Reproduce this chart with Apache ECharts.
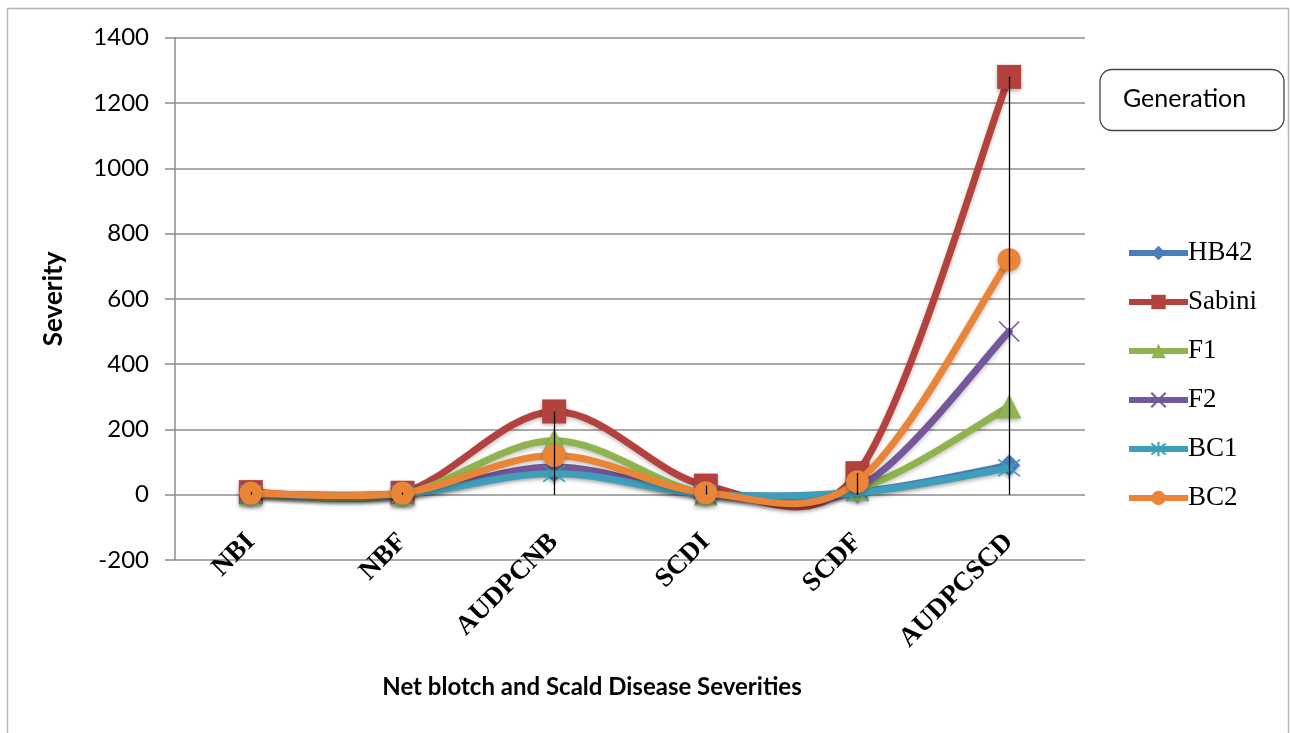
<!DOCTYPE html>
<html>
<head>
<meta charset="utf-8">
<script src="https://cdn.jsdelivr.net/npm/echarts@6/dist/echarts.min.js"></script>
<style>
html,body{margin:0;padding:0;background:#fff;}
#chart{width:1290px;height:733px;}
</style>
</head>
<body>
<div id="chart"></div>
<script>
const categories = ['NBI', 'NBF', 'AUDPCNB', 'SCDI', 'SCDF', 'AUDPCSCD'];
const HB42   = [3, 3, 72, 3, 8, 90];
const Sabini = [8, 6, 255, 28, 66, 1280];
const F1     = [2, 2, 165, 3, 18, 270];
const F2     = [2, 2, 85, 2, 20, 500];
const BC1    = [2, 2, 65, 2, 6, 82];
const BC2    = [5, 5, 120, 6, 40, 720];
const yTicks = { min: -200, max: 1400, interval: 200 };
const seriesNames = ['HB42', 'Sabini', 'F1', 'F2', 'BC1', 'BC2'];
const seriesData = [HB42, Sabini, F1, F2, BC1, BC2];
const colors = ['#4a7ebb', '#b3423f', '#8fb34f', '#74589a', '#3f9fbb', '#ea8538'];
const symbols = [
  'diamond', 'rect', 'triangle',
  'path://M0,0L10,10M10,0L0,10',
  'path://M0,0L10,10M10,0L0,10M5,-1.5L5,11.5',
  'circle'
];
const symbolSizes = [22, 24, 24, 20, 22, 23];

const dropData = categories.map((c, i) => {
  const mx = Math.max(...seriesData.map(s => s[i]));
  return [{ coord: [i, mx] }, { coord: [i, 0] }];
});

// Excel-like smoothed line: Bezier with 1/6 tangents, limited to half the segment length
function makeRenderer(arr, color) {
  const n = arr.length;
  const dist = (a, b) => Math.hypot(a[0] - b[0], a[1] - b[1]);
  return function (params, api) {
    const i = params.dataIndex;
    if (i >= n - 1) return null;
    const P = j => { const jj = Math.max(0, Math.min(n - 1, j)); return api.coord([jj, arr[jj]]); };
    const p0 = P(i - 1), p1 = P(i), p2 = P(i + 1), p3 = P(i + 2);
    const d12 = dist(p1, p2), d02 = dist(p0, p2), d13 = dist(p1, p3);
    let f1 = 1 / 6, f2 = 1 / 6;
    if (d02 / 6 >= d12 / 2 && d02 > 0) f1 = d12 / 2 / d02;
    if (d13 / 6 >= d12 / 2 && d13 > 0) f2 = d12 / 2 / d13;
    return {
      type: 'bezierCurve',
      shape: {
        x1: p1[0], y1: p1[1], x2: p2[0], y2: p2[1],
        cpx1: p1[0] + (p2[0] - p0[0]) * f1, cpy1: p1[1] + (p2[1] - p0[1]) * f1,
        cpx2: p2[0] - (p3[0] - p1[0]) * f2, cpy2: p2[1] - (p3[1] - p1[1]) * f2
      },
      style: {
        stroke: color, lineWidth: 7, fill: null, lineCap: 'round',
        shadowColor: 'rgba(0,0,0,0.25)', shadowBlur: 4, shadowOffsetY: 2
      }
    };
  };
}

const lineSeries = seriesNames.map((n, k) => {
  const isStroke = (k === 3 || k === 4);
  const s = {
    name: n,
    type: 'line',
    data: seriesData[k],
    symbol: symbols[k],
    symbolSize: symbolSizes[k],
    showAllSymbol: true,
    lineStyle: { width: 6, color: colors[k], opacity: 0 },
    itemStyle: isStroke
      ? { color: 'rgba(0,0,0,0)', borderColor: colors[k], borderWidth: 1.6 }
      : { color: colors[k], shadowColor: 'rgba(0,0,0,0.3)', shadowBlur: 4, shadowOffsetY: 2 },
    z: 3 + 2 * k
  };
  if (k === seriesNames.length - 1) {
    s.markLine = {
      silent: true,
      symbol: 'none',
      label: { show: false },
      lineStyle: { color: '#000', width: 1.3, type: 'solid' },
      data: dropData,
      z: 30
    };
  }
  return s;
});

const curveSeries = seriesNames.map((n, k) => ({
  name: n,
  type: 'custom',
  data: seriesData[k].map((v, i) => [i, v]),
  encode: { x: 0, y: 1 },
  renderItem: makeRenderer(seriesData[k], colors[k]),
  clip: false,
  silent: true,
  z: 2 + 2 * k
}));

const chart = echarts.init(document.getElementById('chart'));
chart.setOption({
  animation: false,
  backgroundColor: '#fff',
  color: colors,
  grid: { left: 175, right: 205, top: 37.7, bottom: 173, containLabel: false },
  legend: {
    orient: 'vertical',
    left: 1121,
    top: 234,
    itemWidth: 59,
    itemHeight: 18,
    itemGap: 21,
    textStyle: { fontFamily: 'Liberation Serif', fontSize: 27, color: '#000', lineHeight: 28, padding: [0, 0, 0, -5] },
    data: seriesNames.map((n, k) => ({ name: n, lineStyle: { color: colors[k], width: 6, opacity: 1 } }))
  },
  xAxis: {
    type: 'category',
    data: categories,
    boundaryGap: true,
    axisLine: { show: false, onZero: false },
    axisTick: { show: false },
    axisLabel: {
      rotate: 45, margin: -22,
      fontFamily: 'Liberation Serif', fontWeight: 'bold', fontSize: 27, color: '#000'
    },
    name: 'Net blotch and Scald Disease Severities',
    nameLocation: 'middle',
    nameGap: 115,
    nameTextStyle: { fontFamily: 'Lato', fontWeight: 'bold', fontSize: 24, color: '#000', padding: [0, 76, 0, 0] }
  },
  yAxis: {
    type: 'value',
    min: yTicks.min, max: yTicks.max, interval: yTicks.interval,
    axisLine: { show: true, lineStyle: { color: '#8c8c8c', width: 1.5 } },
    axisTick: { show: true, length: 10, lineStyle: { color: '#8c8c8c', width: 1.5 } },
    splitLine: { show: true, lineStyle: { color: '#8c8c8c', width: 1.5 } },
    axisLabel: { margin: 26, fontFamily: 'Lato', fontSize: 24, color: '#000', formatter: v => String(v) },
    name: 'Severity',
    nameLocation: 'middle',
    nameGap: 108,
    nameRotate: 90,
    nameTextStyle: { fontFamily: 'Lato', fontWeight: 'bold', fontSize: 26, color: '#000' }
  },
  graphic: [
    { type: 'rect', shape: { x: 7.5, y: 8.5, width: 1281, height: 760 }, style: { fill: 'none', stroke: '#b4b4b4', lineWidth: 1.5 }, silent: true, z: -1 },
    { type: 'rect', shape: { x: 1100, y: 69.5, width: 184, height: 61, r: 12 }, style: { fill: '#fff', stroke: '#444', lineWidth: 1.3 }, z: 10 },
    { type: 'text', left: 1123, top: 86, style: { text: 'Generation', font: '25px Lato', fill: '#000' }, z: 11 }
  ],
  series: lineSeries.concat(curveSeries)
});
</script>
</body>
</html>
